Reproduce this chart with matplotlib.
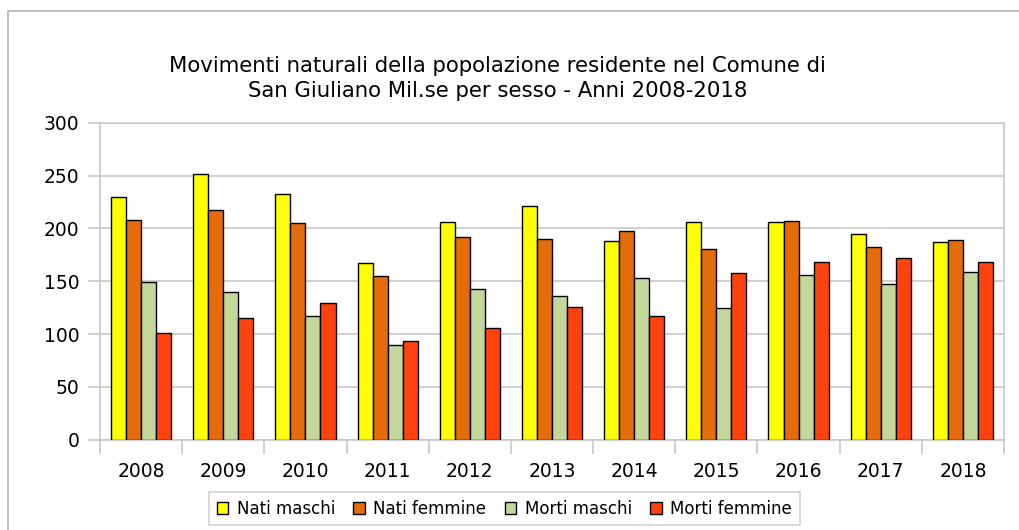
import numpy as np
import matplotlib
matplotlib.use('Agg')
import matplotlib.pyplot as plt
from matplotlib.patches import Rectangle

anni = ['2008', '2009', '2010', '2011', '2012', '2013', '2014', '2015', '2016', '2017', '2018']
nati_maschi = [230, 252, 233, 167, 206, 221, 188, 206, 206, 195, 187]
nati_femmine = [208, 218, 205, 155, 192, 190, 198, 181, 207, 182, 189]
morti_maschi = [149, 140, 117, 90, 143, 136, 153, 125, 156, 147, 159]
morti_femmine = [101, 115, 129, 93, 106, 126, 117, 158, 168, 172, 168]

serie = [nati_maschi, nati_femmine, morti_maschi, morti_femmine]
nomi = ['Nati maschi', 'Nati femmine', 'Morti maschi', 'Morti femmine']
colori = ['#FFFF00', '#E46C0A', '#C4D79B', '#FF420E']

grid_col = '#C8C8C8'

fig = plt.figure(figsize=(10.19, 5.30), dpi=100)
ax = fig.add_axes([100/1019, 1 - 439.5/530, 904/1019, 316.5/530])

# outer chart border
fig.patches.append(Rectangle((8/1019, -0.05), 1.1, 1 - 11/530 + 0.05,
                             transform=fig.transFigure, fill=False,
                             edgecolor='#B4B4B4', linewidth=1.2))

x = np.arange(len(anni))
w = 0.183
for i, (vals, nome, col) in enumerate(zip(serie, nomi, colori)):
    ax.bar(x + (i - 1.5) * w, vals, width=w, color=col, edgecolor='black',
           linewidth=1.0, label=nome, zorder=3)

ax.set_xlim(-0.5, len(anni) - 0.5)
ax.set_ylim(0, 300)
ax.set_yticks(np.arange(0, 301, 50))
ax.grid(axis='y', color=grid_col, linewidth=1.2, zorder=0)

ax.set_xticks(x)
ax.set_xticklabels(anni)
ax.set_xticks(np.arange(-0.5, len(anni), 1), minor=True)
ax.tick_params(axis='x', which='major', length=0, pad=16, labelsize=13.5)
ax.tick_params(axis='x', which='minor', length=10, color=grid_col, width=1.2)
ax.tick_params(axis='y', length=9, color=grid_col, width=1.2, pad=6, labelsize=13.5)

for s in ['left', 'bottom', 'right', 'top']:
    ax.spines[s].set_color(grid_col)
    ax.spines[s].set_linewidth(1.2)

fig.text(0.488, 0.852, 'Movimenti naturali della popolazione residente nel Comune di\n'
         'San Giuliano Mil.se per sesso - Anni 2008-2018',
         ha='center', va='center', fontsize=15.3, linespacing=1.36)

leg = fig.legend(loc='center', bbox_to_anchor=(0.495, 0.04), ncol=4,
                 fontsize=12, frameon=True, fancybox=False, edgecolor='#C8C8C8',
                 handlelength=0.7, handleheight=0.7, handletextpad=0.5,
                 columnspacing=1.1, borderpad=0.45)
leg.get_frame().set_linewidth(1.2)

fig.savefig('out.png', dpi=100)
